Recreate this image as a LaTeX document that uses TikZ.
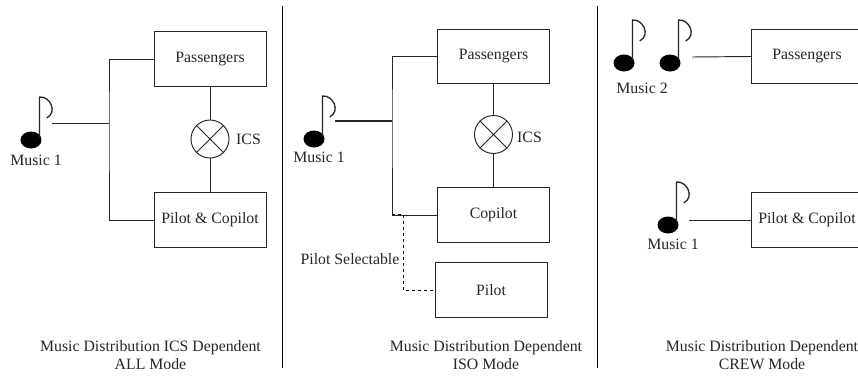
\documentclass[tikz,border=0pt]{standalone}
\usepackage{fontspec}
\setmainfont{Liberation Serif}
\tikzset{
  x=1pt,y=-1pt,
  wire/.style={draw=black!85,line width=0.95pt},
  dashwire/.style={draw=black,line width=0.9pt,dash pattern=on 3pt off 3pt},
  unitbox/.style={draw=black!85,line width=0.95pt,minimum width=112pt,minimum height=54.5pt,inner sep=0pt,font=\fontsize{15.8}{17}\selectfont,text=black!85},
  lab/.style={inner sep=0pt,font=\fontsize{15.8}{17}\selectfont,text=black!85},
  capt/.style={inner sep=0pt,align=center,font=\fontsize{15.8}{18}\selectfont,text=black!85},
  divider/.style={draw=black,line width=0.95pt},
  notehead/.style={fill=black},
  notestem/.style={draw=black!85,line width=1.3pt}
}
\newcommand{\musicnote}[2]{% head centre x,y
  \fill[notehead] (#1,#2) ellipse [x radius=10.5pt,y radius=8.5pt];
  \draw[notestem] (#1+8.5,#2+-3) -- (#1+8.5,#2+-43)
     .. controls (#1+19,#2+-44) and (#1+27,#2+-28) .. (#1+15.7,#2+-22);
}
\newcommand{\icsmark}[3]{% name, x, y
  \node[circle,draw=black!85,line width=0.95pt,minimum size=38pt,inner sep=0pt] (#1) at (#2,#3) {};
  \draw[wire] (#1.45) -- (#1.225) (#1.135) -- (#1.315);
}
\begin{document}
\begin{tikzpicture}
\useasboundingbox (0,0) rectangle (858,375);
\clip (0,0) rectangle (858,375);
\fill[white] (0,0) rectangle (858,375);
% dividers
\coordinate (d1a) at (282,6); \coordinate (d1b) at (282,368);
\coordinate (d2a) at (597,6); \coordinate (d2b) at (597,368);
\draw[divider] (d1a) -- (d1b);
\draw[divider] (d2a) -- (d2b);
% panel 1
\node[unitbox] (p1) at (210,59) {Passengers};
\node[unitbox] (c1) at (210,220) {Pilot \& Copilot};
\icsmark{x1}{210}{139}
\node[lab] (i1) at (248.5,139) {ICS};
\draw[wire] (p1) -- (x1);
\draw[wire] (x1) -- (c1);
\musicnote{31}{140}
\node[lab] (m1) at (36,160) {Music 1};
\coordinate (s1) at (52,123);
\coordinate (j1) at (109,123);
\draw[wire] (s1) -- (j1);
\draw[wire] (p1.west) -| (j1) |- (c1.west);
\node[capt] (t1) at (150.5,355) {Music Distribution ICS Dependent\\ALL Mode};
% panel 2
\node[unitbox] (p2) at (493.5,56.5) {Passengers};
\node[unitbox] (c2) at (493.5,215) {Copilot};
\node[unitbox] (o2) at (491,290) {Pilot};
\icsmark{x2}{493.5}{134.5}
\node[lab] (i2) at (529.5,137) {ICS};
\draw[wire] (p2) -- (x2);
\draw[wire] (x2) -- (c2);
\musicnote{314}{139}
\node[lab] (m2) at (319,157) {Music 1};
\coordinate (s2) at (335,121);
\coordinate (j2) at (392,121);
\draw[wire,line width=1.5pt] (s2) -- (j2);
\draw[wire] (p2.west) -| (j2) |- (c2.west);
\coordinate (k2) at (392,214);
\coordinate (b2) at (403,290);
\draw[dashwire] (k2) -- (k2-|b2) -- (b2) -- (o2.west);
\node[lab] (ps) at (350,259) {Pilot Selectable};
\node[capt] (t2) at (486,355) {Music Distribution Dependent\\ISO Mode};
% panel 3
\node[unitbox,anchor=west] (p3) at (751,56.5) {\hspace*{-1pt}Passengers};
\node[unitbox,anchor=west] (c3) at (751,220) {\hspace*{-1pt}Pilot \& Copilot};
\musicnote{624}{63}
\musicnote{670}{63}
\node[lab] (m3) at (642,88) {Music 2};
\coordinate (s3) at (692,57);
\draw[wire] (s3) -- (p3.west);
\musicnote{668}{225}
\node[lab] (m4) at (673,244) {Music 1};
\coordinate (s4) at (689,220);
\draw[wire] (s4) -- (c3.west);
\node[capt] (t3) at (762,355) {Music Distribution Dependent\\CREW Mode};
\end{tikzpicture}
\end{document}
